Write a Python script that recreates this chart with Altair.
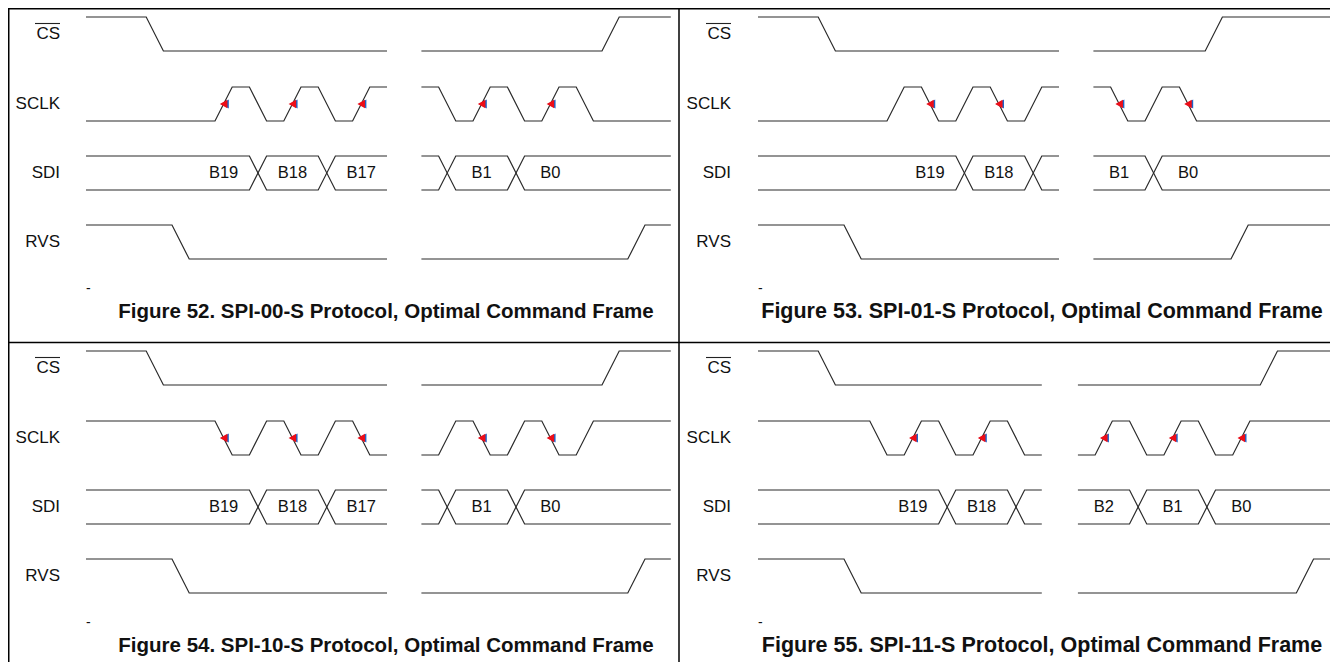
import altair as alt
import pandas as pd

# ------------------------------------------------------------------ data
SIGNALS = ["CS", "SCLK", "SDI", "RVS"]
FIGURES = [
    "Figure 52. SPI-00-S Protocol, Optimal Command Frame",
    "Figure 53. SPI-01-S Protocol, Optimal Command Frame",
    "Figure 54. SPI-10-S Protocol, Optimal Command Frame",
    "Figure 55. SPI-11-S Protocol, Optimal Command Frame",
]

# waveform segments: (start, end, initial level, transition start times)
# time unit = one quarter of an SCLK period; levels 1 = high, 0 = low
CS_52 = [(0, 17.5, 1, [3.5]), (19.5, 34, 0, [30])]
SCLK_52 = [(0, 17.5, 0, [7.5, 9.5, 11.5, 13.5, 15.5]),
           (19.5, 34, 1, [20.5, 22.5, 24.5, 26.5, 28.5])]
SDI_52 = [(0, 17.5, 1, [9.5, 13.5]), (19.5, 34, 1, [20.5, 24.5])]
RVS_52 = [(0, 17.5, 1, [5]), (19.5, 34, 0, [31.5])]
BITS_52 = ["B19", "B18", "B17", "B1", "B0"]
SAMPLE_52 = [8, 12, 16, 23, 27]

CS_53 = [(0, 17.5, 1, [3.5]), (19.5, 34, 0, [26])]
SCLK_53 = [(0, 17.5, 0, [7.5, 9.5, 11.5, 13.5, 15.5]),
           (19.5, 34, 1, [20.5, 22.5, 24.5])]
SDI_53 = [(0, 17.5, 1, [11.5, 15.5]), (19.5, 34, 1, [22.5])]
RVS_53 = [(0, 17.5, 1, [5]), (19.5, 34, 0, [27.5])]
BITS_53 = ["B19", "B18", "B1", "B0"]
SAMPLE_53 = [10, 14, 21, 25]

CS_54 = [(0, 17.5, 1, [3.5]), (19.5, 34, 0, [30])]
SCLK_54 = [(0, 17.5, 1, [7.5, 9.5, 11.5, 13.5, 15.5]),
           (19.5, 34, 0, [20.5, 22.5, 24.5, 26.5, 28.5])]
SDI_54 = [(0, 17.5, 1, [9.5, 13.5]), (19.5, 34, 1, [20.5, 24.5])]
RVS_54 = [(0, 17.5, 1, [5]), (19.5, 34, 0, [31.5])]
BITS_54 = ["B19", "B18", "B17", "B1", "B0"]
SAMPLE_54 = [8, 12, 16, 23, 27]

CS_55 = [(0, 16.5, 1, [3.5]), (18.6, 34, 0, [29.2])]
SCLK_55 = [(0, 16.5, 1, [6.5, 8.5, 10.5, 12.5, 14.5]),
           (18.6, 34, 0, [19.6, 21.6, 23.6, 25.6, 27.6])]
SDI_55 = [(0, 16.5, 1, [10.5, 14.5]), (18.6, 34, 1, [21.6, 25.6])]
RVS_55 = [(0, 16.5, 1, [5]), (18.6, 34, 0, [31.3])]
BITS_55 = ["B19", "B18", "B2", "B1", "B0"]
SAMPLE_55 = [9, 13, 20.1, 24.1, 28.1]

PANELS = [
    dict(cs=CS_52, sclk=SCLK_52, sdi=SDI_52, rvs=RVS_52, bits=BITS_52, samp=SAMPLE_52),
    dict(cs=CS_53, sclk=SCLK_53, sdi=SDI_53, rvs=RVS_53, bits=BITS_53, samp=SAMPLE_53),
    dict(cs=CS_54, sclk=SCLK_54, sdi=SDI_54, rvs=RVS_54, bits=BITS_54, samp=SAMPLE_54),
    dict(cs=CS_55, sclk=SCLK_55, sdi=SDI_55, rvs=RVS_55, bits=BITS_55, samp=SAMPLE_55),
]

# ------------------------------------------------------------------ layout
W, H = 1322, 654
UNIT = 17.2            # px per time unit
TR = 1.0               # transition length (time units)
COL_T0 = [78, 750]     # x of t = 0 in each column
COL_LEFT = [0, 671]
ROW_TOP = [0, 334]
SIG_TOP = {"CS": 9, "SCLK": 79, "SDI": 148, "RVS": 217}
SWING = 34
LABEL_RIGHT = 52
TITLE_X = [378, 1034]
TITLE_SIZE = [20.5, 21.5]
TITLE_Y = 304
DASH_Y = 281
FONT = "Liberation Sans, Arial, sans-serif"


def px(col, t):
    return COL_T0[col] + t * UNIT


def py(row, sig, lvl):
    return ROW_TOP[row] + SIG_TOP[sig] + (1 - lvl) * SWING


def expand(seg):
    start, end, lvl, edges = seg
    pts = [(start, lvl)]
    for e in edges:
        pts.append((e, lvl))
        lvl = 1 - lvl
        pts.append((e + TR, lvl))
    pts.append((end, lvl))
    return pts


line_rows, lab_rows, bit_rows, arr_rows, title_rows, dash_rows, over_rows = [], [], [], [], [], [], []
for p, d in enumerate(PANELS):
    col, row = p % 2, p // 2
    lid = 0
    for sig, key in zip(SIGNALS, ["cs", "sclk", "sdi", "rvs"]):
        for s, seg in enumerate(d[key]):
            variants = [False, True] if sig == "SDI" else [False]
            for inv in variants:
                for i, (t, lv) in enumerate(expand(seg)):
                    lv2 = 1 - lv if inv else lv
                    line_rows.append(dict(id=f"{p}-{lid}", idx=i,
                                          x=px(col, t), y=py(row, sig, lv2)))
                lid += 1
        lab_rows.append(dict(x=COL_LEFT[col] + LABEL_RIGHT,
                             y=ROW_TOP[row] + SIG_TOP[sig] + SWING / 2,
                             text=sig))
    over_rows.append(dict(x1=COL_LEFT[col] + LABEL_RIGHT - 25,
                          x2=COL_LEFT[col] + LABEL_RIGHT,
                          y1=ROW_TOP[row] + SIG_TOP["CS"] + SWING / 2 - 10.5))
    for b, t in zip(d["bits"], d["samp"]):
        bit_rows.append(dict(x=px(col, t), y=py(row, "SDI", 0.5), text=b))
        arr_rows.append(dict(x=px(col, t), y=py(row, "SCLK", 0.5)))
    title_rows.append(dict(x=TITLE_X[col], y=ROW_TOP[row] + TITLE_Y, text=FIGURES[p],
                           size=TITLE_SIZE[col]))
    dash_rows.append(dict(x=px(col, 0), y=ROW_TOP[row] + DASH_Y, text="-"))

grid = pd.DataFrame([
    dict(x1=0, x2=W, y1=0.75, y2=0.75),
    dict(x1=0.75, x2=0.75, y1=0, y2=H),
    dict(x1=COL_LEFT[1], x2=COL_LEFT[1], y1=0, y2=H),
    dict(x1=0, x2=W, y1=ROW_TOP[1] + 0.5, y2=ROW_TOP[1] + 0.5),
])

XS = alt.Scale(domain=[0, W], nice=False, zero=False)
YS = alt.Scale(domain=[0, H], nice=False, zero=False, reverse=True)

lines = alt.Chart(pd.DataFrame(line_rows)).mark_line(
    color="#2b2b2b", strokeWidth=1.2, clip=True
).encode(
    x=alt.X("x:Q", scale=XS, axis=None),
    y=alt.Y("y:Q", scale=YS, axis=None),
    detail="id:N",
    order="idx:Q",
)

grid_layer = alt.Chart(grid).mark_rule(color="black", strokeWidth=1.5).encode(
    x=alt.X("x1:Q", scale=XS, axis=None), x2="x2:Q",
    y=alt.Y("y1:Q", scale=YS, axis=None), y2="y2:Q",
)

over = alt.Chart(pd.DataFrame(over_rows)).mark_rule(color="#222", strokeWidth=1.1).encode(
    x=alt.X("x1:Q", scale=XS, axis=None), x2="x2:Q",
    y=alt.Y("y1:Q", scale=YS, axis=None),
)

labels = alt.Chart(pd.DataFrame(lab_rows)).mark_text(
    align="right", baseline="middle", font=FONT, fontSize=17, color="#111"
).encode(x=alt.X("x:Q", scale=XS, axis=None), y=alt.Y("y:Q", scale=YS, axis=None), text="text:N")

bits = alt.Chart(pd.DataFrame(bit_rows)).mark_text(
    align="center", baseline="middle", font=FONT, fontSize=16.5, color="#111"
).encode(x=alt.X("x:Q", scale=XS, axis=None), y=alt.Y("y:Q", scale=YS, axis=None), text="text:N")

arr_df = pd.DataFrame(arr_rows)
arrows_edge = alt.Chart(arr_df).mark_point(
    shape="triangle-left", filled=True, fill="#1e64c8", strokeWidth=0,
    size=85, opacity=1, xOffset=1.2
).encode(x=alt.X("x:Q", scale=XS, axis=None), y=alt.Y("y:Q", scale=YS, axis=None))

arrows = alt.Chart(arr_df).mark_point(
    shape="triangle-left", filled=True, fill="#ee0d17", strokeWidth=0,
    size=75, opacity=1
).encode(x=alt.X("x:Q", scale=XS, axis=None), y=alt.Y("y:Q", scale=YS, axis=None))

titles = alt.Chart(pd.DataFrame(title_rows)).mark_text(
    align="center", baseline="middle", font=FONT, fontWeight="bold", color="#111"
).encode(x=alt.X("x:Q", scale=XS, axis=None), y=alt.Y("y:Q", scale=YS, axis=None),
         text="text:N", size=alt.Size("size:Q", scale=None, legend=None))

dashes = alt.Chart(pd.DataFrame(dash_rows)).mark_text(
    align="left", baseline="middle", font=FONT, fontSize=14, color="#111"
).encode(x=alt.X("x:Q", scale=XS, axis=None), y=alt.Y("y:Q", scale=YS, axis=None), text="text:N")

chart = alt.layer(grid_layer, lines, over, labels, bits, arrows_edge, arrows, titles, dashes).properties(
    width=W, height=H, padding=0, autosize=alt.AutoSizeParams(type="none"),
    background="white",
).configure_view(stroke=None)

chart.save("out.html", embed_options={"renderer": "svg", "actions": False})
